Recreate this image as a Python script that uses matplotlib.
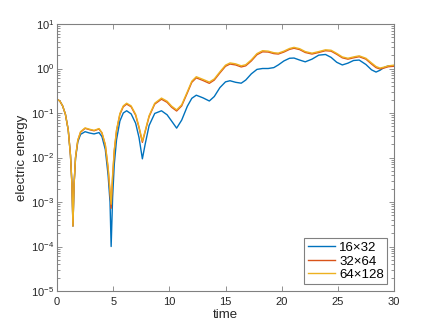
import matplotlib
matplotlib.use("Agg")
import matplotlib.pyplot as plt
import numpy as np
from matplotlib.ticker import LogLocator, NullFormatter, FixedLocator

# time samples (shared by all three runs)
t = [0, 0.25, 0.5, 0.75, 1.0, 1.2, 1.33, 1.42, 1.52, 1.65, 1.85, 2.1, 2.5, 2.9,
     3.3, 3.74, 4.0, 4.3, 4.55, 4.72, 4.82, 4.95, 5.1, 5.3, 5.6, 5.9, 6.2, 6.6,
     7.0, 7.3, 7.6, 7.85, 8.2, 8.7, 9.3, 9.8, 10.2, 10.65, 11.1, 11.6, 12.0,
     12.4, 13.0, 13.56, 14.0, 14.5, 15.0, 15.4, 15.9, 16.4, 16.8, 17.3, 17.8,
     18.3, 18.8, 19.3, 19.7, 20.2, 20.7, 21.1, 21.6, 22.1, 22.7, 23.3, 23.9,
     24.4, 24.9, 25.4, 25.9, 26.4, 26.9, 27.5, 28.0, 28.4, 28.75, 29.1, 29.5,
     30.0]

# log10 of electric energy
log_e_16x32 = [-0.69, -0.73, -0.84, -1.03, -1.38, -1.95, -2.6, -3.54, -2.6, -2.02,
               -1.65, -1.48, -1.42, -1.45, -1.47, -1.44, -1.53, -1.82, -2.4, -3.0,
               -4.0, -2.9, -2.15, -1.6, -1.18, -1.0, -0.95, -1.02, -1.23, -1.55,
               -2.03, -1.7, -1.28, -1.01, -0.95, -1.04, -1.18, -1.34, -1.16, -0.85,
               -0.67, -0.60, -0.66, -0.73, -0.63, -0.43, -0.30, -0.275, -0.31, -0.33,
               -0.26, -0.12, -0.02, 0.0, 0.0, 0.02, 0.08, 0.17, 0.23, 0.235,
               0.19, 0.15, 0.21, 0.30, 0.315, 0.25, 0.14, 0.08, 0.12, 0.18,
               0.19, 0.09, -0.03, -0.08, -0.04, 0.02, 0.06, 0.065]

log_e_32x64 = [-0.69, -0.73, -0.84, -1.03, -1.38, -1.95, -2.6, -3.54, -2.6, -2.0,
               -1.62, -1.43, -1.345, -1.375, -1.40, -1.36, -1.45, -1.72, -2.25, -2.8,
               -3.14, -2.45, -1.85, -1.4, -1.03, -0.86, -0.80, -0.86, -1.05, -1.33,
               -1.66, -1.42, -1.08, -0.80, -0.69, -0.76, -0.87, -0.955, -0.84, -0.55,
               -0.31, -0.21, -0.27, -0.333, -0.26, -0.10, 0.05, 0.10, 0.08, 0.035,
               0.06, 0.17, 0.31, 0.375, 0.37, 0.335, 0.325, 0.37, 0.43, 0.455,
               0.425, 0.36, 0.325, 0.36, 0.40, 0.39, 0.32, 0.24, 0.21, 0.24,
               0.265, 0.21, 0.10, 0.02, -0.01, 0.01, 0.04, 0.05]

log_e_64x128 = [-0.69, -0.73, -0.84, -1.03, -1.38, -1.95, -2.6, -3.54, -2.6, -1.99,
                -1.61, -1.42, -1.335, -1.365, -1.39, -1.35, -1.44, -1.71, -2.22, -2.75,
                -3.05, -2.4, -1.83, -1.38, -1.01, -0.84, -0.78, -0.84, -1.03, -1.31,
                -1.63, -1.40, -1.06, -0.78, -0.665, -0.735, -0.845, -0.93, -0.815, -0.525,
                -0.285, -0.185, -0.245, -0.305, -0.235, -0.075, 0.075, 0.125, 0.105, 0.06,
                0.085, 0.195, 0.335, 0.40, 0.39, 0.355, 0.345, 0.39, 0.45, 0.475,
                0.445, 0.38, 0.345, 0.38, 0.42, 0.41, 0.34, 0.26, 0.23, 0.26,
                0.285, 0.23, 0.125, 0.045, 0.01, 0.03, 0.06, 0.075]

labels = ["16\u00d732", "32\u00d764", "64\u00d7128"]
colors = ["#0072BD", "#D95319", "#EDB120"]

plt.rcParams["font.family"] = ["Liberation Sans", "DejaVu Sans"]
plt.rcParams["mathtext.fontset"] = "custom"
plt.rcParams["mathtext.rm"] = "Liberation Sans"

fig = plt.figure(figsize=(4.36, 3.27), dpi=100)
ax = fig.add_axes([57 / 436, 36 / 327, 337 / 436, 267 / 327])

for logs, lab, c in zip([log_e_16x32, log_e_32x64, log_e_64x128], labels, colors):
    ax.semilogy(t, 10.0 ** np.array(logs), color=c, lw=1.0, label=lab)

ax.set_xlim(0, 30)
ax.set_ylim(1e-5, 1e1)
ax.xaxis.set_major_locator(FixedLocator([0, 5, 10, 15, 20, 25, 30]))
ax.yaxis.set_major_locator(LogLocator(base=10, numticks=10))
ax.yaxis.set_minor_locator(LogLocator(base=10, subs=np.arange(2, 10), numticks=20))
ax.yaxis.set_minor_formatter(NullFormatter())

gray = "#262626"
for s in ax.spines.values():
    s.set_color("#808080")
    s.set_linewidth(0.8)
ax.tick_params(which="both", direction="in", top=True, right=True,
               colors="#808080", labelcolor=gray, labelsize=8, width=0.6)
ax.tick_params(which="major", length=3.5)
ax.tick_params(which="minor", length=2)
ax.tick_params(axis="x", pad=4)
ax.tick_params(axis="y", pad=2)

ax.set_xlabel("time", fontsize=9.5, color=gray, labelpad=2)
ax.set_ylabel("electric energy", fontsize=9.5, color=gray, labelpad=2)

leg = ax.legend(loc="lower right", fontsize=9.5, handlelength=2.1,
                handletextpad=0.3, borderpad=0.25, labelspacing=0.1,
                borderaxespad=0.5, fancybox=False, framealpha=1)
leg.get_frame().set_edgecolor("#808080")
leg.get_frame().set_linewidth(0.8)

fig.savefig("out.png", dpi=100)
